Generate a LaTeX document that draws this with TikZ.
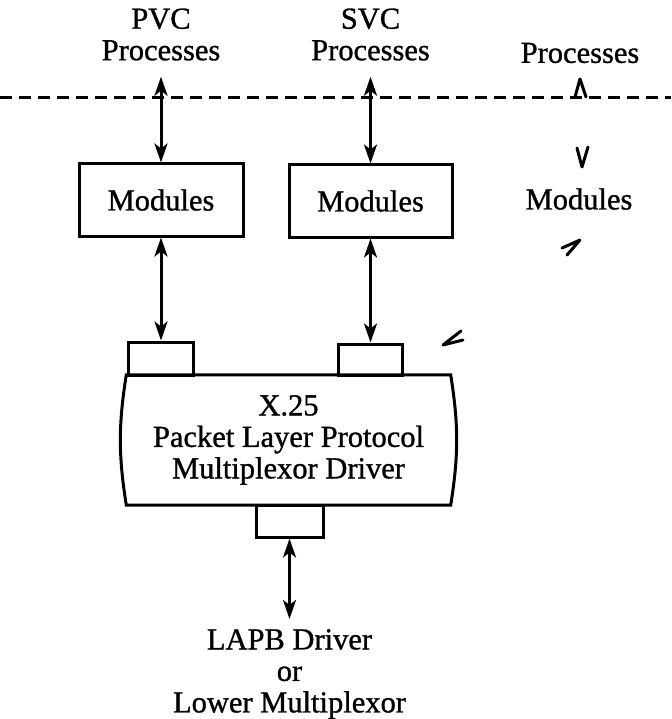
\documentclass[tikz,border=0pt]{standalone}
\usepackage{fontspec}
\setmainfont{Liberation Serif}[FakeBold=1]
\usetikzlibrary{arrows.meta}
\begin{document}
\begin{tikzpicture}[x=1pt,y=-1pt]
\tikzset{boite/.style={draw, line width=3pt, inner sep=0pt},
  texte/.style={align=center, inner sep=0pt, font=\fontsize{30.5}{31.5}\selectfont},
  fleche/.style={line width=3pt, {Stealth[length=19pt,width=13pt,inset=5pt]}-{Stealth[length=19pt,width=13pt,inset=5pt]}},
  trait/.style={line width=3pt, line cap=round, line join=round}}
\useasboundingbox (0,0) rectangle (671,719);
\draw[line width=3pt, dash pattern=on 12pt off 7pt] (0,98) -- (671,98);
\node[texte] (PVC) at (161,34.5) {PVC\\Processes};
\node[texte] (SVC) at (370.5,34.5) {SVC\\Processes};
\node[texte] (P) at (580,53) {Processes};
\node[boite, texte, minimum width=164pt, minimum height=72pt] (M1) at (161,200) {Modules};
\node[boite, texte, minimum width=163pt, minimum height=72pt] (M2) at (370.5,201) {Modules};
\node[texte] (M3) at (579,199) {Modules};
\node[boite, minimum width=65pt, minimum height=33pt] (C1) at (161,358.5) {};
\node[boite, minimum width=64pt, minimum height=31pt] (C2) at (370.5,359.5) {};
\node[texte, minimum width=324pt, minimum height=130pt] (X25) at (288.5,440) {X.25\\Packet Layer Protocol\\Multiplexor Driver};
\draw[boite] (X25.north west) -- (X25.north east) to[bend left=9] (X25.south east) -- (X25.south west) to[bend left=9] (X25.north west) -- cycle;
\node[boite, minimum width=67pt, minimum height=32pt] (C3) at (289.5,521) {};
\node[texte, anchor=north] (L) at (289.5,629) {LAPB Driver\\or\\Lower Multiplexor};
\draw[fleche, shorten <=16pt] (PVC) -- (M1);
\draw[fleche] (M1) -- (C1);
\draw[fleche, shorten <=16pt] (SVC) -- (M2);
\draw[fleche] (M2) -- (C2);
\draw[fleche, shorten >=10pt] (C3) -- (L);
\draw[trait] (575,97) -- (580,79) -- (586,97);
\draw[trait] (577,148) -- (582,167) -- (588,147);
\draw[trait] (567,255) -- (580,240) -- (562,248);
\draw[trait] (461,331) -- (443,345) -- (463,340);
\end{tikzpicture}
\end{document}
